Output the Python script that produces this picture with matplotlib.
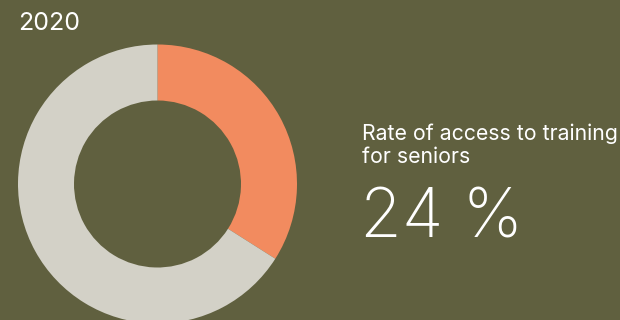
import matplotlib
matplotlib.use("Agg")
import matplotlib.pyplot as plt

# data
year = "2020"
label = "Rate of access to training\nfor seniors"
headline = "24 %"
shares = [34, 66]          # highlighted part, remainder
colors = ["#f28b5f", "#d3d1c7"]
bg = "#60603f"

W, H = 620, 320
fig = plt.figure(figsize=(W / 100, H / 100), dpi=100, facecolor=bg)
ax = fig.add_axes([0, 0, 1, 1])
ax.set_facecolor(bg)

# donut (pixel coordinates, y measured from bottom)
ax.pie(shares, colors=colors, startangle=90, counterclock=False,
       center=(157.5, H - 184), radius=139.5,
       wedgeprops=dict(width=56, linewidth=0))
ax.set_xlim(0, W)
ax.set_ylim(0, H)
ax.set_aspect("equal")
ax.axis("off")

ax.text(18, H - 30, year, color="white", fontsize=18, family="Inter",
        va="baseline", ha="left")
# baseline of a multi-line text is the last line
ax.text(362, H - 163, label, color="white", fontsize=15.3, family="Inter",
        va="baseline", ha="left", linespacing=1.2)
ax.text(360, H - 237, headline, color="white", fontsize=49, family="Inter",
        fontweight="light", va="baseline", ha="left")

fig.savefig("out.png", dpi=100, facecolor=bg)
